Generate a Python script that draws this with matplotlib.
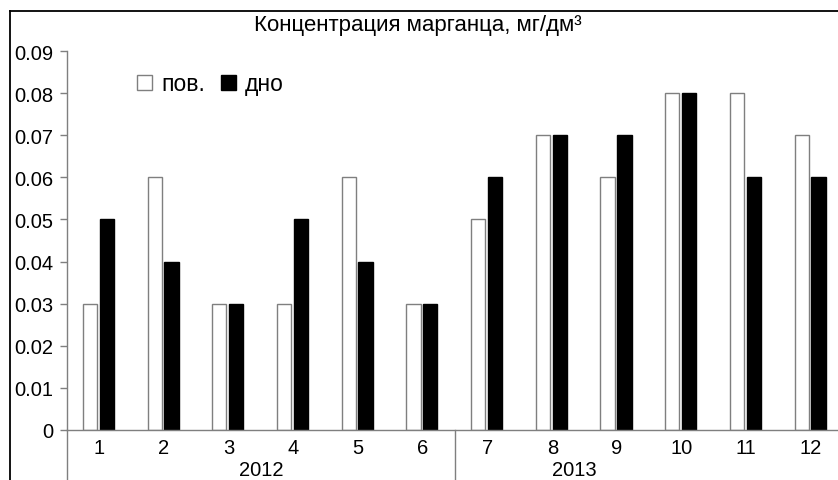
import matplotlib
matplotlib.use("Agg")
import matplotlib.pyplot as plt
from matplotlib.patches import Rectangle
from matplotlib.lines import Line2D
import numpy as np

plt.rcParams['font.family'] = ['Liberation Sans', 'DejaVu Sans']

categories = ['1', '2', '3', '4', '5', '6', '7', '8', '9', '10', '11', '12']
surface = [0.03, 0.06, 0.03, 0.03, 0.06, 0.03, 0.05, 0.07, 0.06, 0.08, 0.08, 0.07]
bottom = [0.05, 0.04, 0.03, 0.05, 0.04, 0.03, 0.06, 0.07, 0.07, 0.08, 0.06, 0.06]
years = ['2012', '2013']
yticks = [0, 0.01, 0.02, 0.03, 0.04, 0.05, 0.06, 0.07, 0.08, 0.09]
ytick_labels = ['0', '0.01', '0.02', '0.03', '0.04', '0.05', '0.06', '0.07', '0.08', '0.09']
title = 'Концентрация марганца, мг/дм³'
legend_labels = ['пов.', 'дно']

W, H = 838, 481
fig = plt.figure(figsize=(W / 100, H / 100), dpi=100)
left_px, bot_px, top_px = 67, 431, 52
ax = fig.add_axes([left_px / W, 1 - bot_px / H, (W - left_px) / W + 0.01, (bot_px - top_px) / H])

gray = '#7f7f7f'
fs = 14.5
x = np.arange(len(categories))
bw = 0.22
ax.bar(x - 0.145, surface, width=bw, color='white', edgecolor=gray, linewidth=1.0)
ax.bar(x + 0.115, bottom, width=bw, color='black', edgecolor='black', linewidth=1.0)

ax.set_ylim(0, 0.09)
ax.set_xlim(-0.5, -0.5 + (W - left_px) / 64.7 + 0.01 * W / 64.7)
ax.set_yticks(yticks)
ax.set_yticklabels(ytick_labels, fontsize=fs)
ax.set_xticks(x)
ax.set_xticklabels(categories, fontsize=fs)
ax.tick_params(axis='x', length=0, pad=6)
ax.tick_params(axis='y', length=5, width=1, color=gray, pad=5)
for s in ['top', 'right']:
    ax.spines[s].set_visible(False)
for s in ['left', 'bottom']:
    ax.spines[s].set_color(gray)
    ax.spines[s].set_linewidth(1.0)

# extensions of axis and group separator down to figure bottom
trans = ax.get_xaxis_transform()
ext = -((H - bot_px) / (bot_px - top_px)) - 0.02
ax.plot([-0.5, -0.5], [0, ext], transform=trans, color=gray, lw=1.0, clip_on=False)
ax.plot([5.5, 5.5], [0, ext], transform=trans, color=gray, lw=1.0, clip_on=False)

# year labels
ax.text(2.5, -40 / (bot_px - top_px), years[0], transform=trans, ha='center', va='center', fontsize=fs)
ax.text(7.34, -40 / (bot_px - top_px), years[1], transform=trans, ha='center', va='center', fontsize=fs)

# title
fig.text(418 / W, 1 - 25 / H, title, ha='center', va='center', fontsize=16)

# legend
handles = [Rectangle((0, 0), 1, 1, facecolor='white', edgecolor=gray, lw=1.0),
           Rectangle((0, 0), 1, 1, facecolor='black', edgecolor='black', lw=1.0)]
fig.legend(handles, legend_labels, loc='center left', bbox_to_anchor=(137 / W, 1 - 85 / H),
           ncol=2, frameon=False, fontsize=16.5, handlelength=0.65, handleheight=0.65,
           handletextpad=0.4, columnspacing=0.7, borderpad=0, borderaxespad=0)

# figure frame (left and top visible)
fig.add_artist(Line2D([10 / W, 10 / W], [0, 1 - 12 / H], transform=fig.transFigure, color='black', lw=1.3))
fig.add_artist(Line2D([10 / W, 1], [1 - 12 / H, 1 - 12 / H], transform=fig.transFigure, color='black', lw=1.3))

fig.savefig('out.png', dpi=100)
